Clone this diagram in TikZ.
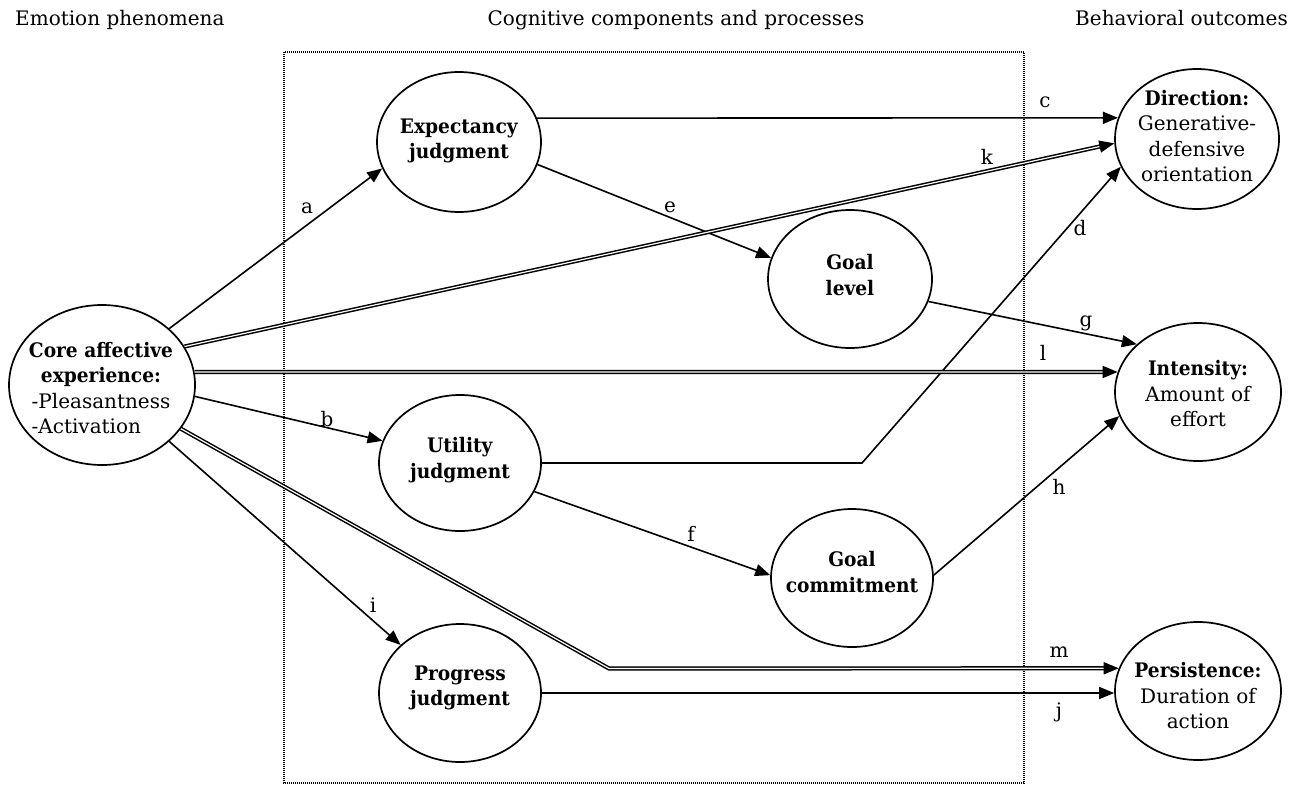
\documentclass[tikz,border=0pt]{standalone}
\usepackage{fontspec}
\setmainfont{DejaVu Serif}[BoldFeatures={FakeStretch=0.93}]
\usepackage{calc}
\usetikzlibrary{shapes.geometric,arrows.meta,calc}
\begin{document}
\begin{tikzpicture}[x=1pt,y=-1pt,
  oval/.style={draw, ellipse, line width=1.7pt, inner sep=0pt},
  txt/.style={align=center, font=\fontsize{20}{25.5}\selectfont, inner sep=0pt},
  hdr/.style={font=\fontsize{20}{24}\selectfont, inner sep=0pt},
  lbl/.style={font=\fontsize{20}{24}\selectfont, inner sep=0pt},
  arr/.style={line width=1.6pt, -{Triangle[length=15pt,width=12pt]}},
  dbl/.style={double, line width=1.5pt, double distance=1.2pt},
  box/.style={line width=1.1pt, dash pattern=on 1pt off 1pt}
]
\useasboundingbox (0,0) rectangle (1297,787);

% headers
\node[hdr, anchor=base west] (h1) at (15,25) {Emotion phenomena};
\node[hdr, anchor=base] (h2) at (676,25) {Cognitive components and processes};
\node[hdr, anchor=base east] (h3) at (1288,25) {Behavioral outcomes};

% dotted frame
\draw[box] (284,52) rectangle (1024,783);

% ellipses
\node[oval, minimum width=186pt, minimum height=160pt] (core) at (102,385) {};
\node[oval, minimum width=164pt, minimum height=140pt] (exp) at (459,142) {};
\node[oval, minimum width=164pt, minimum height=138pt] (goal) at (850,279) {};
\node[oval, minimum width=162pt, minimum height=136pt] (util) at (460,463) {};
\node[oval, minimum width=162pt, minimum height=138pt] (comm) at (852,578) {};
\node[oval, minimum width=162pt, minimum height=138pt] (prog) at (460,693) {};
\node[oval, minimum width=164pt, minimum height=140pt] (dir) at (1197,139) {};
\node[oval, minimum width=166pt, minimum height=138pt] (int) at (1198,392) {};
\node[oval, minimum width=166pt, minimum height=138pt] (pers) at (1198,691) {};

% texts
\node[txt] (tcore) at (101,388) {\textbf{Core affective}\\\textbf{experience:}\\-Pleasantness\\\makebox[\widthof{-Pleasantness}][l]{-Activation}};
\node[txt] (texp) at (459,141) {\textbf{Expectancy}\\\textbf{judgment}};
\node[txt] (tgoal) at (850,275) {\textbf{Goal}\\\textbf{level}};
\node[txt] (tutil) at (460,460) {\textbf{Utility}\\\textbf{judgment}};
\node[txt] (tcomm) at (852,572) {\textbf{Goal}\\\textbf{commitment}};
\node[txt] (tprog) at (460,688) {\textbf{Progress}\\\textbf{judgment}};
\node[txt] (tdir) at (1197,136) {\textbf{Direction:}\\Generative-\\defensive\\orientation};
\node[txt] (tint) at (1198,394) {\textbf{Intensity:}\\Amount of\\effort};
\node[txt] (tpers) at (1198,696) {\textbf{Persistence:}\\Duration of\\action};

% single arrows
\draw[arr] (core.40) -- (exp.199);
\draw[arr] (core.-7) -- (util.164);
\draw[arr] (core.-40) -- (prog.141);
\draw[arr] (exp.17) -- (dir.165);
\draw[arr] (exp.-16) -- (goal.165);
\coordinate (dc) at (862,463);
\draw[arr] (util.0) -- (dc) -- (dir.200);
\draw[arr] (goal.-16) -- (int.142);
\draw[arr] (util.-21) -- (comm.178);
\draw[arr] (comm.2) -- (int.197);
\draw[arr] (prog.0) -- (prog.0 -| pers.west);

% double arrows
\draw[dbl, shorten >=8pt] (core.25) -- (dir.183);
\draw[arr] ($(dir.183)!15pt!(core.25)$) -- (dir.183);
\draw[dbl, shorten >=8pt] (core.8) -- (int.166);
\draw[arr] ([xshift=-15pt]int.166) -- (int.166);
\coordinate (mc) at (609,668.5);
\draw[dbl, shorten >=8pt] (core.-29) -- (mc) -- (pers.164);
\draw[arr] ([xshift=-15pt]pers.164) -- (pers.164);

% labels
\node[lbl] (la) at (307,208) {a};
\node[lbl] (lb) at (327,419) {b};
\node[lbl] (lc) at (1045,102) {c};
\node[lbl] (ld) at (1080,228) {d};
\node[lbl] (le) at (670,207) {e};
\node[lbl] (lf) at (691,534) {f};
\node[lbl] (lg) at (1086,323) {g};
\node[lbl] (lh) at (1059,487) {h};
\node[lbl] (li) at (373,605) {i};
\node[lbl] (lj) at (1059,712) {j};
\node[lbl] (lk) at (987,157) {k};
\node[lbl] (ll) at (1043,353) {l};
\node[lbl] (lm) at (1059,652) {m};
\end{tikzpicture}
\end{document}
